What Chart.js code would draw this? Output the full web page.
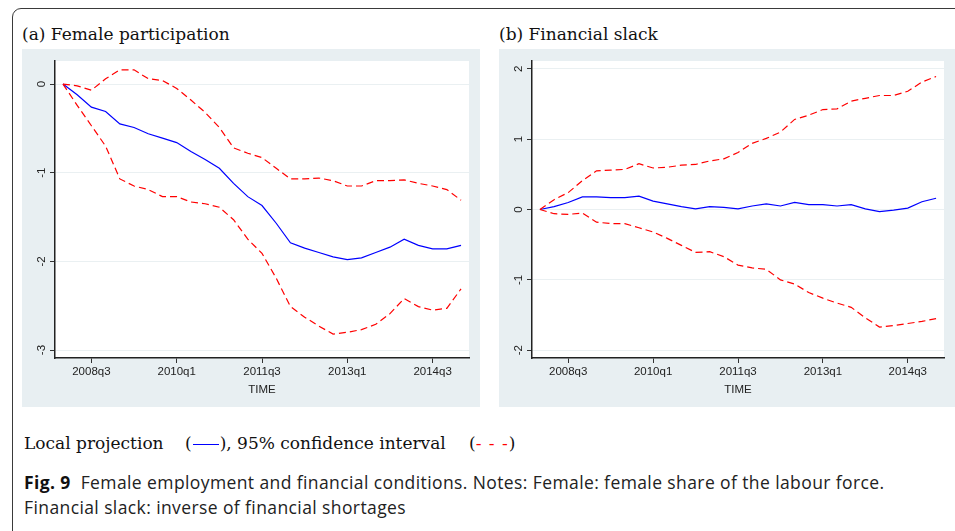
<!DOCTYPE html>
<html>
<head>
<meta charset="utf-8">
<script src="https://cdn.jsdelivr.net/npm/chart.js@4.4.1/dist/chart.umd.min.js"></script>
<style>
  html, body { margin: 0; padding: 0; background: #fff; }
  body { width: 955px; height: 531px; position: relative; overflow: hidden; }
  .frame {
    position: absolute; left: 12px; top: 8px; width: 980px; height: 560px;
    border: 1.5px solid #3a3a3a; border-radius: 9px;
  }
  .ptitle {
    position: absolute; top: 24px; font-family: "DejaVu Serif", serif;
    font-size: 17px; color: #111; white-space: nowrap;
  }
  .panel { position: absolute; top: 49px; height: 358px; background: #e8eff2; }
  .panel canvas { display: block; }
  .legend {
    position: absolute; top: 433px; font-family: "DejaVu Serif", serif;
    font-size: 17px; color: #111; white-space: nowrap;
  }
  .bl { display: inline-block; width: 26px; border-top: 1.5px solid #0000ff; vertical-align: middle; margin: 0 1px; }
  .rd { color: #ff0000; letter-spacing: 1px; }
  .caption {
    position: absolute; left: 24px; top: 470px; font-family: "Open Sans", sans-serif;
    font-size: 17.5px; letter-spacing: 0.4px; line-height: 25px; color: #222;
    width: 930px; white-space: nowrap;
  }
  .caption b { font-weight: bold; color: #111; }
</style>
</head>
<body>
<div class="frame"></div>

<div class="ptitle" style="left:22px">(a) Female participation</div>
<div class="ptitle" style="left:499px">(b) Financial slack</div>

<div class="panel" style="left:22px;width:458px"><canvas id="femaleChart" width="458" height="358"></canvas></div>
<div class="panel" style="left:499px;width:456px"><canvas id="slackChart" width="456" height="358"></canvas></div>

<div class="legend" style="left:24px">Local projection</div>
<div class="legend" style="left:185px">(<span class="bl"></span>), 95% confidence interval</div>
<div class="legend" style="left:469px">(<span class="rd">- - -</span>)</div>

<div class="caption"><b>Fig. 9</b>&nbsp; Female employment and financial conditions. Notes: Female: female share of the labour force.<br>Financial slack: inverse of financial shortages</div>

<script>
/*=========================================
DATA
=========================================*/

// quarters 2008q1 .. 2015q1
const quarters = [
  "2008q1","2008q2","2008q3","2008q4","2009q1","2009q2","2009q3","2009q4",
  "2010q1","2010q2","2010q3","2010q4","2011q1","2011q2","2011q3","2011q4",
  "2012q1","2012q2","2012q3","2012q4","2013q1","2013q2","2013q3","2013q4",
  "2014q1","2014q2","2014q3","2014q4","2015q1"
];

const xTickLabels = ["2008q3", "2010q1", "2011q3", "2013q1", "2014q3"];

const femaleTicks = [0, -1, -2, -3];
const slackTicks = [2, 1, 0, -1, -2];

const femaleLP = [
  0, -0.12, -0.26, -0.31, -0.45, -0.49, -0.56, -0.61, -0.66, -0.76,
  -0.85, -0.95, -1.12, -1.27, -1.37, -1.57, -1.79, -1.85, -1.90, -1.95,
  -1.98, -1.96, -1.90, -1.84, -1.75, -1.82, -1.86, -1.86, -1.82
];

const femaleUpper = [
  0, -0.02, -0.07, 0.06, 0.16, 0.16, 0.06, 0.04, -0.05, -0.18,
  -0.32, -0.49, -0.72, -0.78, -0.83, -0.95, -1.07, -1.07, -1.06, -1.09,
  -1.15, -1.15, -1.09, -1.09, -1.08, -1.12, -1.15, -1.19, -1.31
];

const femaleLower = [
  0, -0.24, -0.47, -0.70, -1.07, -1.15, -1.19, -1.27, -1.27, -1.33,
  -1.35, -1.39, -1.53, -1.75, -1.91, -2.19, -2.51, -2.63, -2.73, -2.82,
  -2.80, -2.77, -2.71, -2.59, -2.42, -2.51, -2.55, -2.53, -2.31
];

const slackLP = [
  0, 0.04, 0.10, 0.18, 0.18, 0.17, 0.17, 0.19, 0.12, 0.08,
  0.04, 0.01, 0.04, 0.03, 0.01, 0.05, 0.08, 0.05, 0.10, 0.07,
  0.07, 0.05, 0.07, 0.01, -0.03, -0.01, 0.02, 0.11, 0.16
];

const slackUpper = [
  0, 0.14, 0.24, 0.41, 0.55, 0.56, 0.57, 0.65, 0.59, 0.60,
  0.63, 0.64, 0.69, 0.72, 0.81, 0.94, 1.01, 1.10, 1.28, 1.34,
  1.42, 1.43, 1.54, 1.58, 1.62, 1.62, 1.68, 1.81, 1.89
];

const slackLower = [
  0, -0.06, -0.07, -0.05, -0.18, -0.20, -0.20, -0.26, -0.32, -0.41,
  -0.51, -0.61, -0.60, -0.67, -0.79, -0.83, -0.85, -1.00, -1.06, -1.18,
  -1.26, -1.33, -1.39, -1.54, -1.67, -1.65, -1.62, -1.59, -1.55
];

/*=========================================
HELPERS
=========================================*/

const tickFont = { family: "Liberation Sans", size: 11.5 };

function toPoints(values) {
  return values.map((v, i) => ({ x: i, y: v }));
}

// white plot region inside the grey panel
const plotBackground = {
  id: "plotBackground",
  beforeDraw(chart) {
    const { ctx, chartArea: a } = chart;
    ctx.save();
    ctx.fillStyle = "#ffffff";
    ctx.fillRect(a.left, a.top, a.right - a.left, a.bottom - a.top);
    ctx.restore();
  }
};

// Stata style vertical y labels
const rotatedYLabels = {
  id: "rotatedYLabels",
  afterDraw(chart) {
    const { ctx } = chart;
    const y = chart.scales.y;
    ctx.save();
    ctx.font = "11.5px 'Liberation Sans'";
    ctx.fillStyle = "#222";
    ctx.textAlign = "center";
    ctx.textBaseline = "middle";
    y.ticks.forEach(t => {
      const py = y.getPixelForValue(t.value);
      ctx.save();
      ctx.translate(20, py);
      ctx.rotate(-Math.PI / 2);
      ctx.fillText(String(t.value), 0, 0);
      ctx.restore();
    });
    ctx.restore();
  }
};

function makeChart(canvasId, lp, upper, lower, yMin, yMax, yTicks) {

  const tickPos = xTickLabels.map(l => quarters.indexOf(l));

  return new Chart(document.getElementById(canvasId), {

    type: "line",

    data: {
      datasets: [
        {
          data: toPoints(upper),
          borderColor: "#ff0000",
          borderWidth: 1.2,
          borderDash: [7, 4],
          pointRadius: 0,
          tension: 0
        },
        {
          data: toPoints(lower),
          borderColor: "#ff0000",
          borderWidth: 1.2,
          borderDash: [7, 4],
          pointRadius: 0,
          tension: 0
        },
        {
          data: toPoints(lp),
          borderColor: "#0000ff",
          borderWidth: 1.2,
          pointRadius: 0,
          tension: 0
        }
      ]
    },

    options: {
      responsive: false,
      animation: false,
      devicePixelRatio: 1,
      layout: { padding: { left: 0, right: 11, top: 12, bottom: 0 } },
      plugins: {
        legend: { display: false },
        tooltip: { enabled: false }
      },
      scales: {
        x: {
          type: "linear",
          min: -0.56,
          max: quarters.length - 1 + 0.56,
          afterBuildTicks: scale => {
            scale.ticks = tickPos.map(v => ({ value: v }));
          },
          afterFit: scale => { scale.height = 49; },
          ticks: {
            autoSkip: false,
            maxRotation: 0,
            padding: 2,
            color: "#222",
            font: tickFont,
            callback: value => quarters[value]
          },
          grid: {
            drawOnChartArea: false,
            drawTicks: true,
            tickLength: 5,
            tickColor: "#333",
            tickWidth: 1
          },
          border: { display: true, color: "#222", width: 1.5 },
          title: {
            display: true,
            text: "TIME",
            color: "#222",
            font: tickFont,
            padding: { top: 0, bottom: 10 }
          }
        },
        y: {
          min: yMin,
          max: yMax,
          afterBuildTicks: scale => {
            scale.ticks = yTicks.map(v => ({ value: v }));
          },
          afterFit: scale => { scale.width = 33; },
          ticks: { display: false },
          grid: {
            color: "#eaf0f2",
            lineWidth: 1,
            drawTicks: true,
            tickLength: 5,
            tickColor: "#333",
            tickWidth: 1
          },
          border: { display: true, color: "#222", width: 1.5 }
        }
      }
    },

    plugins: [plotBackground, rotatedYLabels]

  });

}

/*=========================================
CHARTS
=========================================*/

makeChart("femaleChart", femaleLP, femaleUpper, femaleLower, -3.09, 0.26, femaleTicks);

makeChart("slackChart", slackLP, slackUpper, slackLower, -2.11, 2.11, slackTicks);
</script>
</body>
</html>
